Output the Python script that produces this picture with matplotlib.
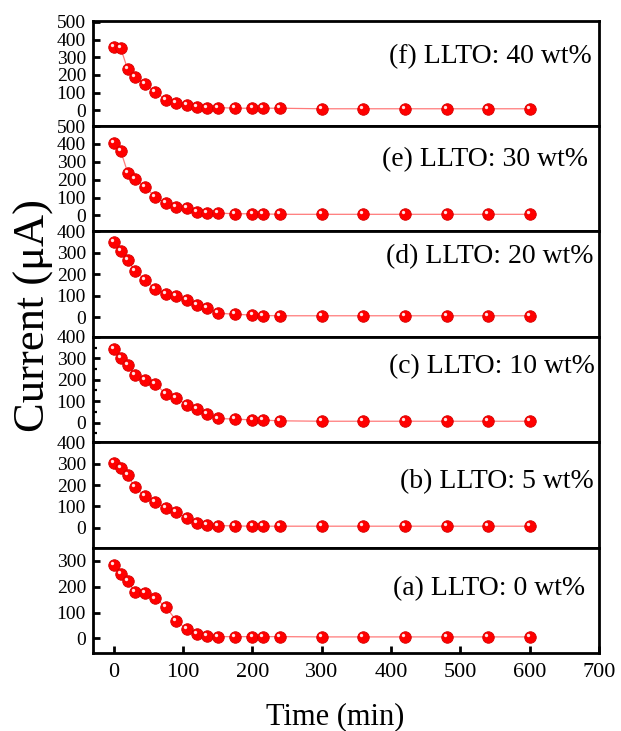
#!/usr/bin/env python3

import matplotlib.pyplot as plt
from matplotlib.ticker import MultipleLocator
from matplotlib.transforms import offset_copy

plt.rcParams['font.family'] = ['Liberation Serif', 'DejaVu Serif']

tiempo = [0, 10, 20, 30, 45, 60, 75, 90, 105, 120, 135, 150,
          175, 200, 215, 240, 300, 360, 420, 480, 540, 600]

cur_f = [357, 351, 231, 188, 150, 101, 60, 41, 28, 19, 15, 15,
         11, 11, 11, 11, 8, 8, 8, 8, 8, 8]
cur_e = [404, 360, 240, 203, 160, 102, 70, 49, 43, 17, 15, 13,
         9, 9, 8, 6, 6, 6, 6, 6, 6, 6]
cur_d = [349, 309, 267, 218, 176, 131, 111, 102, 80, 60, 45, 20,
         15, 11, 9, 8, 8, 8, 8, 8, 8, 8]
cur_c = [342, 303, 267, 221, 199, 179, 134, 114, 84, 64, 40, 19,
         16, 12, 11, 8, 6, 6, 6, 6, 6, 6]
cur_b = [302, 281, 247, 190, 148, 123, 92, 73, 45, 23, 14, 11,
         9, 8, 8, 8, 8, 8, 8, 8, 8, 8]
cur_a = [282, 250, 222, 179, 176, 154, 122, 69, 36, 17, 8, 7,
         7, 7, 7, 7, 6, 6, 6, 6, 6, 6]

etiquetas = ['(f) LLTO: 40 wt%', '(e) LLTO: 30 wt%', '(d) LLTO: 20 wt%',
             '(c) LLTO: 10 wt%', '(b) LLTO: 5 wt%', '(a) LLTO: 0 wt%']
series = [cur_f, cur_e, cur_d, cur_c, cur_b, cur_a]
limites = [(-90, 507), (-90, 500), (-90, 400), (-92, 400), (-92, 400), (-56, 350)]
yticks = [range(0, 501, 100), range(0, 501, 100), range(0, 401, 100),
          range(0, 401, 100), range(0, 401, 100), range(0, 301, 100)]
pos_texto = [(0.985, 0.66), (0.979, 0.68), (0.989, 0.76),
             (0.992, 0.72), (0.990, 0.63), (0.972, 0.61)]
xticks = range(0, 701, 100)

fig, axs = plt.subplots(6, 1, sharex=True, figsize=(6.21, 7.31), dpi=100)
fig.subplots_adjust(left=0.1498, right=0.9646, top=0.9717, bottom=0.1067, hspace=0)

for i, ax in enumerate(axs):
    ax.plot(tiempo, series[i], '-', color='#ff7a7a', lw=0.9, zorder=2)
    ax.plot(tiempo, series[i], 'o', ls='none', ms=8.3, mfc='#ff0000',
            mec='#d40000', mew=0.6, zorder=3)
    brillo = offset_copy(ax.transData, fig=fig, x=-1.4, y=1.4, units='points')
    ax.plot(tiempo, series[i], 'o', ls='none', ms=2.4, mfc='#ffe4e4',
            mec='none', transform=brillo, zorder=4)
    ax.set_xlim(-30, 700)
    ax.set_ylim(*limites[i])
    ax.set_yticks(list(yticks[i]))
    for s in ax.spines.values():
        s.set_linewidth(2.0)
    ax.tick_params(axis='y', direction='in', length=5, width=2.0,
                   labelsize=14, pad=5, right=False)
    ax.tick_params(axis='x', direction='in', length=5, width=2.0,
                   labelsize=16, pad=7, top=False, bottom=(i == 5))
    ax.text(*pos_texto[i], etiquetas[i], transform=ax.transAxes,
            ha='right', va='center', fontsize=20)

axs[3].yaxis.set_minor_locator(MultipleLocator(50))
axs[3].tick_params(axis='y', which='minor', direction='in', length=3,
                   width=1.6, right=False)
axs[-1].set_xticks(list(xticks))

fig.text(0.054, 0.569, 'Current (\u03bcA)', rotation=90, ha='center',
         va='center', fontsize=32)
fig.text(0.54, 0.02, 'Time (min)', ha='center', va='center', fontsize=22)

plt.savefig('out.png', dpi=100)
